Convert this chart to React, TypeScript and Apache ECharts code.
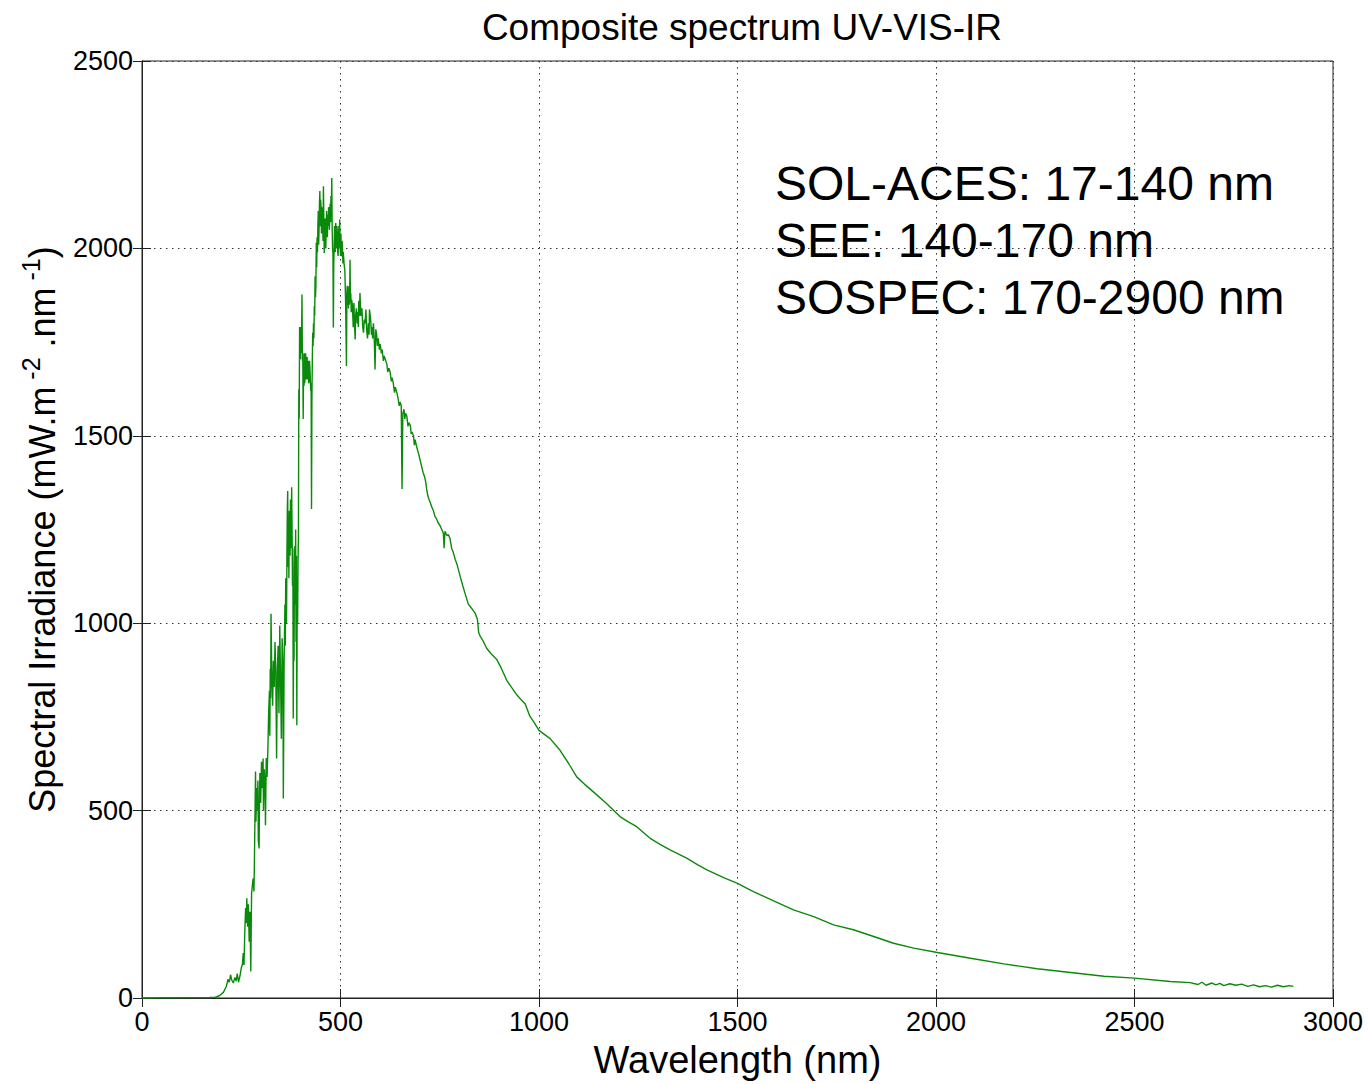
import React, { useEffect, useRef } from "react";
import * as echarts from "echarts";

// Wavelength (nm) / spectral irradiance (mW.m-2.nm-1) pairs
const euvFuvBand: number[][] = [
  [0, 0], [17, 0], [60, 0.5], [100, 0.8], [140, 1], [170, 1.5],
];

const uvBand: number[][] = [
  [185, 2], [195, 6], [205, 15], [212, 30], [217, 50], [220, 42], [223, 62], [226, 48],
  [230, 40], [234, 55], [237, 45], [240, 65], [243, 42], [247, 60], [250, 80], [253, 90],
  [255, 120], [257, 88], [259, 180], [261, 240], [263, 200], [264, 266], [266, 190],
  [268, 250], [270, 150], [272, 230], [274, 71], [276, 280], [278, 300], [280, 319],
  [282, 284], [283, 354], [285, 520], [286, 604], [287, 470], [289, 560], [290, 500],
  [292, 580], [293, 420], [295, 399], [296, 540], [297, 600], [299, 520], [301, 630],
  [303, 560], [305, 639], [306, 500], [308, 610], [310, 570], [311, 461], [313, 640],
  [315, 590], [317, 660], [319, 760], [321, 820], [322, 700], [323, 878], [324, 800],
  [325, 1025], [327, 860], [329, 780], [331, 900], [333, 830], [335, 950], [337, 870],
  [339, 639], [341, 880], [343, 940], [345, 760], [347, 994], [349, 850], [351, 692],
  [353, 960], [355, 880], [356, 532], [358, 900], [360, 1050], [361, 940], [362, 1120],
  [363, 1030], [364, 1000], [365, 1171], [366, 1300], [367, 1353], [368, 1150],
  [369, 1280], [370, 1120], [371, 1300], [372, 1250], [373, 1180], [374, 1330],
  [375, 1320], [376, 1200], [377, 1363], [378, 1250], [379, 1100], [380, 1200],
  [381, 746], [382, 1000], [383, 900], [384, 1150], [385, 1206], [386, 1050], [387, 1250],
  [388, 950], [389, 1180], [390, 728], [391, 1118], [392, 1000], [393, 1160], [394, 1230],
  [395, 1624], [396, 1546], [397, 1790], [398, 1750], [399, 1704],
];

const visBand: number[][] = [
  [400, 1790], [401, 1720], [402, 1760], [403, 1877], [404, 1700], [405, 1720],
  [406, 1545], [407, 1680], [408, 1633], [409, 1720], [410, 1640], [411, 1660],
  [412, 1720], [413, 1704], [414, 1650], [415, 1680], [416, 1710], [417, 1650],
  [418, 1690], [419, 1700], [420, 1640], [421, 1650], [422, 1700], [423, 1680],
  [425, 1620], [426, 1640], [427, 1305], [428, 1600], [429, 1700], [430, 1775],
  [431, 1740], [432, 1800], [433, 1760], [434, 1846], [435, 1820], [436, 1926],
  [437, 1870], [438, 1900], [439, 2015], [440, 1950], [441, 2030], [442, 1990],
  [443, 2060], [444, 2100], [445, 2010], [446, 2050], [447, 2120], [448, 2153],
  [449, 2059], [450, 2130], [451, 2112], [452, 2040], [453, 2080], [454, 2110],
  [455, 2070], [456, 2020], [457, 2166], [458, 2080], [459, 1988], [460, 2050],
  [461, 2080], [462, 2010], [463, 2000], [464, 2060], [465, 2100], [466, 2040],
  [467, 2030], [468, 2090], [469, 2060], [470, 2110], [471, 2100], [472, 2050],
  [474, 2120], [475, 2070], [476, 2140], [477, 2100], [478, 2188], [479, 2060],
  [480, 2000], [481, 1985], [482, 1789], [483, 1960], [484, 2000], [485, 2060],
  [486, 2020], [487, 1990], [488, 2068], [489, 2030], [490, 2000], [491, 2060],
  [492, 2040], [493, 1990], [494, 1980], [495, 2030], [496, 2060], [497, 2000],
  [498, 2077], [499, 2010], [500, 1980], [501, 2040], [502, 2000], [503, 1979],
  [504, 2020], [505, 2000], [506, 1960], [507, 1990], [509, 1960], [511, 1940],
  [513, 1850], [515, 1686], [516, 1880], [517, 1900], [518, 1850], [519, 1880],
  [520, 1840], [521, 1899], [522, 1850], [523, 1860], [524, 1970], [525, 1870],
  [526, 1880], [527, 1830], [528, 1863], [530, 1850], [532, 1790], [534, 1854],
  [535, 1800], [537, 1757], [538, 1820], [540, 1840], [542, 1800], [543, 1830],
  [545, 1790], [546, 1860], [548, 1820], [549, 1881], [551, 1830], [552, 1820],
  [554, 1840], [556, 1790], [558, 1775], [560, 1810], [562, 1800], [564, 1837],
  [566, 1780], [568, 1760], [570, 1800], [572, 1770], [573, 1837], [576, 1810],
  [578, 1770], [579, 1790], [581, 1760], [583, 1800], [585, 1760], [587, 1677],
  [589, 1784], [591, 1770], [593, 1740], [595, 1760], [598, 1730], [600, 1745],
  [603, 1720], [605, 1730], [608, 1700], [610, 1713], [614, 1700], [617, 1690],
  [619, 1670], [622, 1680], [625, 1670], [628, 1645], [630, 1655], [633, 1640],
  [636, 1615], [638, 1630], [642, 1615], [645, 1600], [648, 1580], [650, 1590],
  [653, 1580], [655, 1358], [657, 1560], [660, 1571], [662, 1545], [664, 1560],
  [667, 1553], [670, 1525], [672, 1535], [676, 1527], [678, 1505], [680, 1510],
  [684, 1500], [686, 1475], [688, 1490], [692, 1470], [696, 1455],
];

const irBand: number[][] = [
  [700, 1438], [704, 1420], [708, 1402], [712, 1390], [715, 1375], [717, 1358],
  [720, 1340], [723, 1330], [726, 1322], [730, 1310], [734, 1300], [738, 1285],
  [742, 1278], [746, 1268], [751, 1260], [755, 1250], [759, 1240], [761, 1200],
  [763, 1245], [768, 1234], [772, 1236], [776, 1225], [780, 1200], [784, 1189],
  [789, 1170], [794, 1155], [801, 1127], [808, 1100], [815, 1075], [822, 1051],
  [830, 1040], [839, 1027], [845, 1010], [848, 975], [852, 965], [858, 955], [868, 933],
  [880, 918], [893, 904], [905, 880], [919, 847], [930, 830], [944, 809], [955, 796],
  [965, 785], [977, 752], [988, 735], [1000, 714], [1028, 692], [1053, 661], [1075, 625],
  [1095, 590], [1115, 570], [1137, 550], [1170, 519], [1204, 484], [1225, 470],
  [1246, 457], [1280, 426], [1305, 410], [1330, 395], [1372, 373], [1400, 355],
  [1423, 342], [1465, 321], [1500, 306], [1540, 284], [1591, 259], [1641, 235],
  [1692, 217], [1742, 195], [1792, 182], [1843, 164], [1893, 146], [1944, 133],
  [2000, 122], [2087, 106], [2171, 91], [2255, 78], [2339, 68], [2423, 58], [2500, 53],
  [2590, 44], [2640, 41], [2660, 36], [2670, 42], [2680, 34], [2695, 40], [2705, 35],
  [2715, 39], [2725, 33], [2740, 38], [2755, 34], [2770, 37], [2785, 31], [2800, 35],
  [2815, 30], [2830, 33], [2845, 29], [2860, 34], [2875, 30], [2890, 33], [2900, 31],
];

const xTickInterval = 500;
const yTickInterval = 500;
const xRange = [0, 3000];
const yRange = [0, 2500];

const titleText = "Composite spectrum UV-VIS-IR";
const xAxisName = "Wavelength (nm)";
const annotationLines = [
  "SOL-ACES: 17-140 nm",
  "SEE: 140-170 nm",
  "SOSPEC: 170-2900 nm",
];

const FONT = "'Liberation Sans', Arial, Helvetica, sans-serif";

export default function App() {
  const ref = useRef<HTMLDivElement>(null);

  useEffect(() => {
    if (!ref.current) return;
    const chart = echarts.init(ref.current, undefined, { renderer: "svg" });
    const spectrum = [...euvFuvBand, ...uvBand, ...visBand, ...irBand];

    const gridLine = { show: true, lineStyle: { color: "#333", width: 1, type: [1.5, 4.5] as any } };
    const axisLine = { show: true, lineStyle: { color: "#222", width: 1 } };
    const tick = { show: true, inside: true, length: 9, lineStyle: { color: "#222", width: 1 } };
    const plain = (v: number) => String(v);

    chart.setOption({
      animation: false,
      backgroundColor: "#fff",
      textStyle: { fontFamily: FONT },
      title: {
        text: titleText,
        left: 737,
        textAlign: "center",
        top: 4,
        textStyle: { fontFamily: FONT, fontSize: 37, fontWeight: "normal", color: "#000" },
      },
      grid: {
        left: 142,
        right: 35,
        top: 61,
        bottom: 84,
        show: true,
        borderColor: "#222",
        borderWidth: 1,
        backgroundColor: "#fff",
      },
      xAxis: [
        {
          type: "value",
          min: xRange[0],
          max: xRange[1],
          interval: xTickInterval,
          name: xAxisName,
          nameLocation: "middle",
          nameGap: 43,
          nameTextStyle: { fontFamily: FONT, fontSize: 38, color: "#000" },
          axisLine,
          axisTick: tick,
          axisLabel: { fontFamily: FONT, fontSize: 27, color: "#000", margin: 10, formatter: plain },
          splitLine: gridLine,
        },
        {
          type: "value",
          position: "top",
          min: xRange[0],
          max: xRange[1],
          interval: xTickInterval,
          axisLine,
          axisTick: tick,
          axisLabel: { show: false },
          splitLine: { show: false },
        },
      ],
      yAxis: [
        {
          type: "value",
          min: yRange[0],
          max: yRange[1],
          interval: yTickInterval,
          name: "{a|Spectral Irradiance (mW.m}{s| -2}{a| .nm}{s| -1}{a|)}",
          nameLocation: "middle",
          nameGap: 82,
          nameTextStyle: {
            fontFamily: FONT,
            color: "#000",
            rich: {
              a: { fontFamily: FONT, fontSize: 36, color: "#000", lineHeight: 42, verticalAlign: "bottom" },
              s: { fontFamily: FONT, fontSize: 25, color: "#000", lineHeight: 25, verticalAlign: "top" },
            },
          },
          axisLine,
          axisTick: tick,
          axisLabel: { fontFamily: FONT, fontSize: 27, color: "#000", margin: 9, formatter: plain },
          splitLine: gridLine,
        },
        {
          type: "value",
          position: "right",
          min: yRange[0],
          max: yRange[1],
          interval: yTickInterval,
          axisLine,
          axisTick: tick,
          axisLabel: { show: false },
          splitLine: { show: false },
        },
      ],
      graphic: annotationLines.map((line, i) => ({
        type: "text",
        x: 775,
        y: 183 + i * 57,
        z: 100,
        style: {
          text: line,
          fontFamily: FONT,
          fontSize: 48,
          fill: "#000",
          verticalAlign: "middle",
          align: "left",
        },
      })),
      series: [
        {
          type: "line",
          name: "Composite spectrum",
          data: spectrum,
          xAxisIndex: 0,
          yAxisIndex: 0,
          showSymbol: false,
          symbol: "none",
          lineStyle: { color: "#0a8a0a", width: 1.4 },
          z: 5,
        },
      ],
    });

    return () => chart.dispose();
  }, []);

  return (
    <div
      ref={ref}
      style={{ position: "absolute", left: 0, top: 0, width: 1368, height: 1084 }}
    />
  );
}
